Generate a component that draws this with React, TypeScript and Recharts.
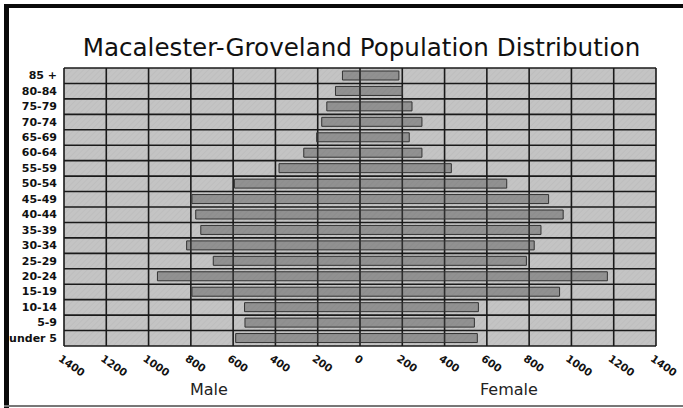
import React from 'react';
import { BarChart, Bar, XAxis, YAxis, CartesianGrid } from 'recharts';

const categories = ['85 +', '80-84', '75-79', '70-74', '65-69', '60-64', '55-59', '50-54', '45-49', '40-44', '35-39', '30-34', '25-29', '20-24', '15-19', '10-14', '5-9', 'under 5'];
const maleValues = [83, 116, 157, 181, 205, 266, 383, 594, 795, 777, 753, 820, 694, 958, 795, 546, 544, 588];
const femaleValues = [184, 200, 246, 293, 233, 293, 432, 694, 892, 961, 856, 824, 787, 1170, 944, 560, 541, 555];
const xTicks = [-1400, -1200, -1000, -800, -600, -400, -200, 0, 200, 400, 600, 800, 1000, 1200, 1400];

const data = categories.map((c, i) => ({ cat: c, male: -maleValues[i], female: femaleValues[i] }));

const FONT = '"DejaVu Sans", Verdana, sans-serif';

const XTick = (props: any) => {
  const { x, y, payload } = props;
  return (
    <text
      transform={`translate(${x - 2},${y}) rotate(35)`}
      dy="0.72em"
      textAnchor="start"
      fontFamily={FONT}
      fontWeight="bold"
      fontSize={10.5}
      fill="#111"
    >
      {Math.abs(payload.value)}
    </text>
  );
};

const YTick = (props: any) => {
  const { x, y, payload } = props;
  return (
    <text x={x} y={y} textAnchor="end" dominantBaseline="central" fontFamily={FONT} fontWeight="bold" fontSize={11} fill="#111">
      {payload.value}
    </text>
  );
};

const rowLines = (props: any) => {
  const off = props.offset;
  const n = categories.length;
  return Array.from({ length: n + 1 }, (_, i) => off.top + (i * off.height) / n);
};

export default function App() {
  return (
    <div style={{ position: 'fixed', left: 0, top: 0, width: 683, height: 408, background: '#fff', overflow: 'hidden' }}>
      <div style={{ position: 'absolute', left: 4, top: 4, width: 679, height: 4, background: '#0a0a0a' }} />
      <div style={{ position: 'absolute', left: 4, top: 4, width: 5, height: 404, background: '#0a0a0a' }} />
      <div style={{ position: 'absolute', left: 4, top: 405, width: 679, height: 2, background: '#777' }} />
      <div
        style={{
          position: 'absolute',
          left: 0,
          width: 723,
          top: 33,
          textAlign: 'center',
          fontFamily: FONT,
          fontSize: 24.6,
          color: '#111',
          whiteSpace: 'nowrap',
        }}
      >
        Macalester-Groveland Population Distribution
      </div>
      <div style={{ position: 'absolute', left: 190, top: 380, fontFamily: FONT, fontSize: 16, color: '#222' }}>Male</div>
      <div style={{ position: 'absolute', left: 480, top: 380, fontFamily: FONT, fontSize: 16, color: '#222' }}>Female</div>
      <div style={{ position: 'absolute', left: 0, top: 0 }}>
        <BarChart
          width={683}
          height={408}
          data={data}
          layout="vertical"
          stackOffset="sign"
          margin={{ top: 68, right: 27, bottom: 32, left: 0 }}
        >
          <defs>
            <pattern id="bgHatch" width="4" height="4" patternUnits="userSpaceOnUse" patternTransform="rotate(45)">
              <rect width="4" height="4" fill="#c4c4c4" />
              <line x1="0" y1="0" x2="0" y2="4" stroke="#bcbcbc" strokeWidth="1.5" />
            </pattern>
          </defs>
          <CartesianGrid
            fill="url(#bgHatch)"
            stroke="#1a1a1a"
            strokeWidth={1.6}
            strokeOpacity={1}
            horizontalCoordinatesGenerator={rowLines}
          />
          <XAxis
            type="number"
            domain={[-1400, 1400]}
            ticks={xTicks}
            interval={0}
            axisLine={false}
            tickLine={false}
            tickSize={0}
            tickMargin={8}
            height={30}
            tick={<XTick />}
            allowDataOverflow
          />
          <YAxis
            type="category"
            dataKey="cat"
            width={64}
            axisLine={false}
            tickLine={false}
            tickSize={0}
            tickMargin={7}
            interval={0}
            tick={<YTick />}
          />
          <Bar dataKey="male" stackId="a" barSize={9} fill="#4a4a4a" fillOpacity={0.42} stroke="#333" strokeWidth={1} isAnimationActive={false} />
          <Bar dataKey="female" stackId="a" barSize={9} fill="#4a4a4a" fillOpacity={0.42} stroke="#333" strokeWidth={1} isAnimationActive={false} />
        </BarChart>
      </div>
    </div>
  );
}
